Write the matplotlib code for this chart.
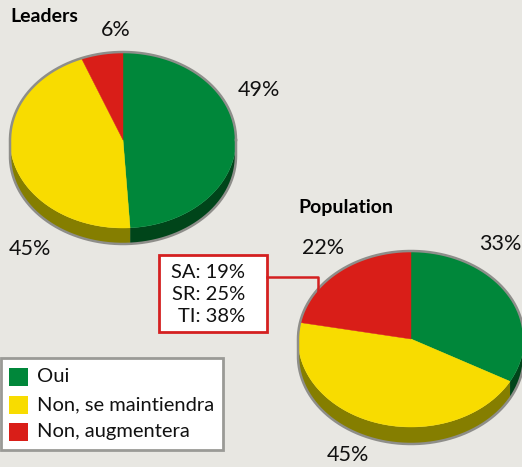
import numpy as np
import matplotlib.pyplot as plt
from matplotlib.patches import Polygon, Rectangle

plt.rcParams['font.family'] = ['Lato', 'DejaVu Sans']

# data
categories = ['Oui', 'Non, se maintiendra', 'Non, augmentera']
leaders = [49, 45, 6]
population = [33, 45, 22]
sub_labels = ['SA', 'SR', 'TI']
sub_values = [19, 25, 38]

top_colors = ['#00873a', '#f8dc00', '#d91e18']
side_colors = ['#00451a', '#857e00', '#7d1410']
bg = '#e8e7e2'
edge = '#8e8e8a'


def draw_pie(ax, cx, cy, a, b, depth, values, label_pos):
    total = float(sum(values))
    cum = np.concatenate([[0], np.cumsum(values)]) / total
    # sides first (front half only)
    for i in range(len(values)):
        t0 = 90 - 360 * cum[i]
        t1 = 90 - 360 * cum[i + 1]
        lo, hi = max(t1, -180), min(t0, 0)
        if hi > lo:
            t = np.radians(np.linspace(lo, hi, 80))
            xs = cx + a * np.cos(t)
            ys = cy - b * np.sin(t)
            pts = np.column_stack([np.r_[xs, xs[::-1]], np.r_[ys, ys[::-1] + depth]])
            ax.add_patch(Polygon(pts, closed=True, fc=side_colors[i], ec='none'))
    # top face
    for i in range(len(values)):
        t0 = 90 - 360 * cum[i]
        t1 = 90 - 360 * cum[i + 1]
        t = np.radians(np.linspace(t0, t1, 200))
        xs = np.r_[cx, cx + a * np.cos(t)]
        ys = np.r_[cy, cy - b * np.sin(t)]
        ax.add_patch(Polygon(np.column_stack([xs, ys]), closed=True,
                             fc=top_colors[i], ec=top_colors[i], lw=0.3))
    # outline
    tu = np.radians(np.linspace(0, 180, 200))
    tl = np.radians(np.linspace(180, 360, 200))
    ox = np.r_[cx + a * np.cos(tu), cx + a * np.cos(tl), cx + a]
    oy = np.r_[cy - b * np.sin(tu), cy - b * np.sin(tl) + depth, cy]
    ax.plot(ox, oy, color=edge, lw=1.8, solid_joinstyle='round')
    for v, (lx, ly) in zip(values, label_pos):
        ax.text(lx, ly, f'{v}%', ha='center', va='center', fontsize=15.5, color='#111111')


fig = plt.figure(figsize=(5.22, 4.67), dpi=100, facecolor=bg)
ax = fig.add_axes([0, 0, 1, 1])
ax.set_xlim(0, 522)
ax.set_ylim(467, 0)
ax.axis('off')

ax.text(10, 17, 'Leaders', fontsize=14, fontweight='bold', va='center', ha='left')
draw_pie(ax, 123, 140, 113, 88, 16, leaders, [(259, 90), (30, 249), (116, 30)])

ax.text(298, 208, 'Population', fontsize=14, fontweight='bold', va='center', ha='left')
draw_pie(ax, 411, 339, 113, 88, 17, population, [(500, 244), (348, 455), (323, 248)])

# callout
ax.plot([267, 318, 318], [277, 277, 292], color='#d42020', lw=1.8)
ax.add_patch(Rectangle((159, 255), 108, 77, fc='white', ec='#d42020', lw=2))
for k, (s, v) in enumerate(zip(sub_labels, sub_values)):
    ax.text(245, 272 + k * 22.5, f'{s}: {v}%', ha='right', va='center', fontsize=14.5, color='#111111')

# legend
ax.add_patch(Rectangle((1, 358), 222, 92, fc='white', ec='#9a9a96', lw=2))
for k, (c, col) in enumerate(zip(categories, top_colors)):
    yc = 377 + k * 27.5
    ax.add_patch(Rectangle((9, yc - 9), 19, 18, fc=col, ec='none'))
    ax.text(37, yc, c, ha='left', va='center', fontsize=14.5, color='#111111')

fig.savefig('out.png', dpi=100, facecolor=bg)
